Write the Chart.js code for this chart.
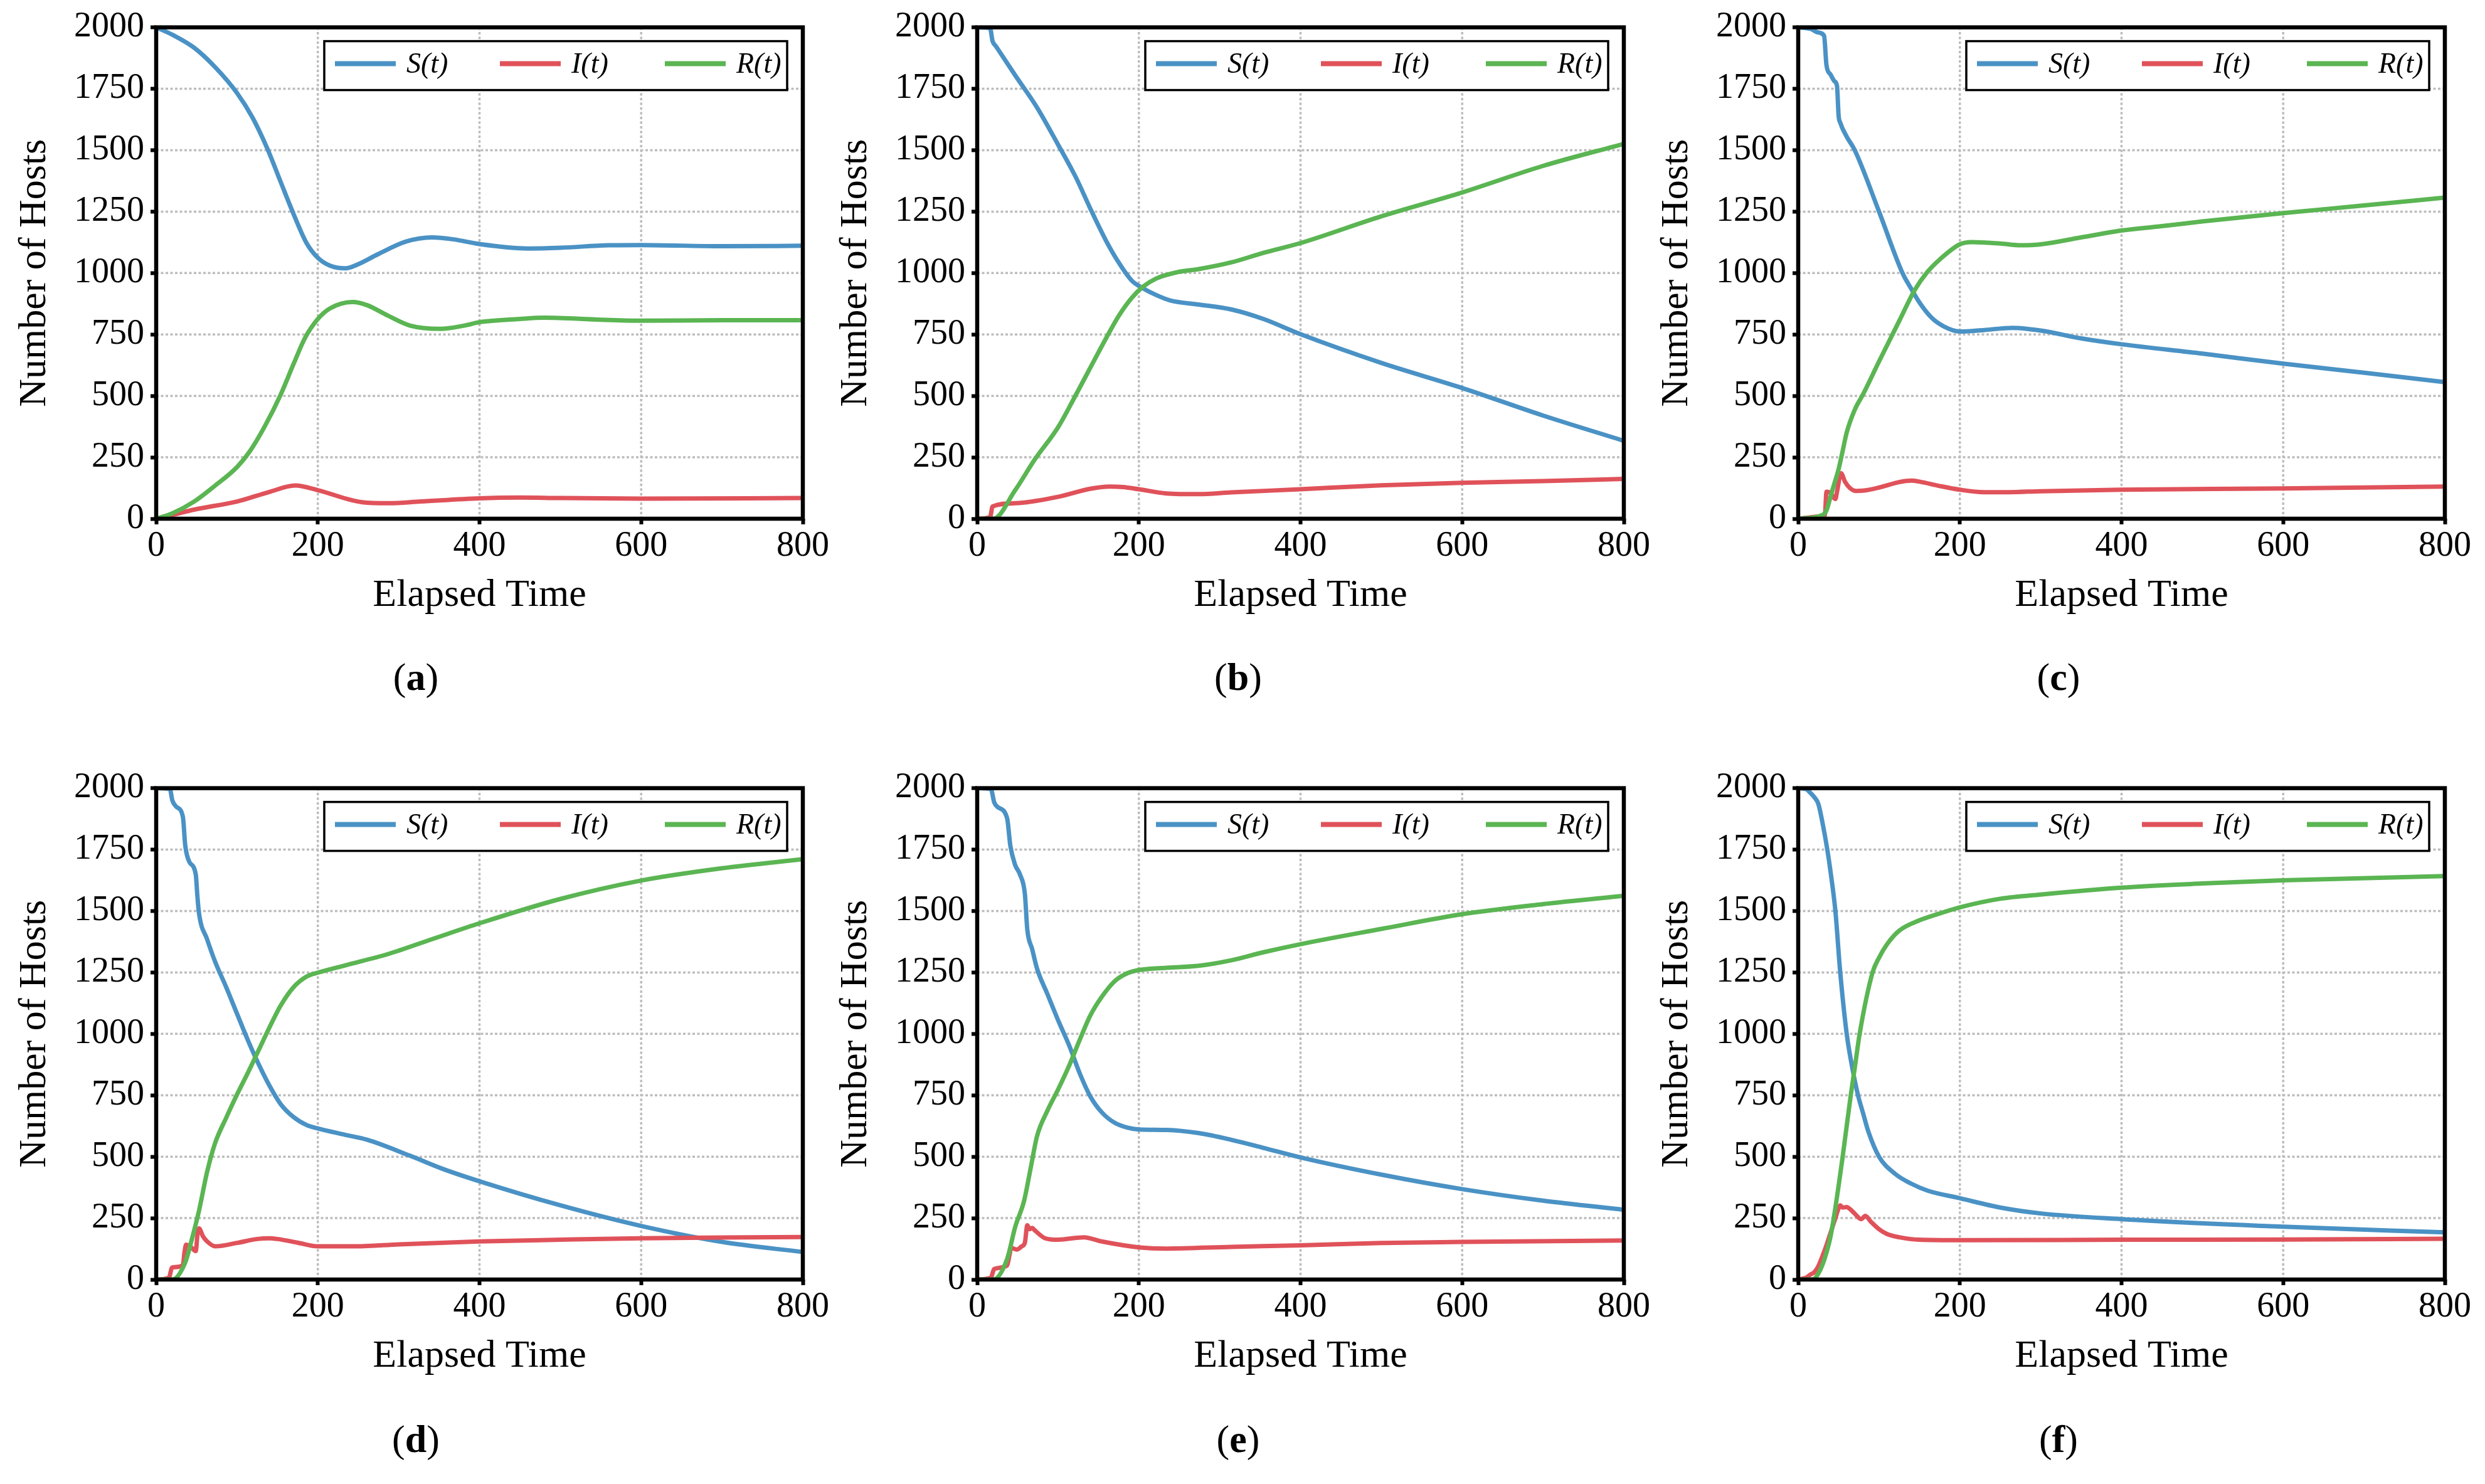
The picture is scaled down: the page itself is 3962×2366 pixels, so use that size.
<!DOCTYPE html>
<html>
<head>
<meta charset="utf-8">
<script src="https://cdn.jsdelivr.net/npm/chart.js@4.4.1/dist/chart.umd.min.js"></script>
<style>
  html, body { margin: 0; padding: 0; background: #fff; }
  #page { position: relative; width: 3962px; height: 2366px; overflow: hidden; background: #fff; }
  canvas { position: absolute; }
  .caption {
    position: absolute; width: 300px; margin-left: -150px; text-align: center;
    font-family: "Liberation Serif", serif; font-size: 62px; line-height: 1; color: #000;
  }
</style>
</head>
<body>
<div id="page">
  <canvas id="chart-a" width="1330" height="1000" style="left:0px;top:0px"></canvas>
  <canvas id="chart-b" width="1330" height="1000" style="left:1309px;top:0px"></canvas>
  <canvas id="chart-c" width="1330" height="1000" style="left:2618px;top:0px"></canvas>
  <canvas id="chart-d" width="1330" height="1000" style="left:0px;top:1213px"></canvas>
  <canvas id="chart-e" width="1330" height="1000" style="left:1309px;top:1213px"></canvas>
  <canvas id="chart-f" width="1330" height="1000" style="left:2618px;top:1213px"></canvas>
  <div class="caption" style="left:663px;top:1048px">(<b>a</b>)</div>
  <div class="caption" style="left:1974px;top:1048px">(<b>b</b>)</div>
  <div class="caption" style="left:3282px;top:1048px">(<b>c</b>)</div>
  <div class="caption" style="left:663px;top:2263px">(<b>d</b>)</div>
  <div class="caption" style="left:1974px;top:2263px">(<b>e</b>)</div>
  <div class="caption" style="left:3282px;top:2263px">(<b>f</b>)</div>
</div>
<script>
// axis ticks
const xTicks = [0, 200, 400, 600, 800];
const yTicks = [0, 250, 500, 750, 1000, 1250, 1500, 1750, 2000];
const seriesLabels = ['S(t)', 'I(t)', 'R(t)'];

// (a)
const tA_S = [0, 20, 47, 73, 100, 119, 138, 154, 170, 186, 200, 215, 234, 250, 274, 309, 341, 368, 400, 460, 500, 560, 600, 700, 800];
const sA   = [2000, 1970, 1917, 1838, 1733, 1634, 1503, 1371, 1240, 1122, 1062, 1030, 1019, 1036, 1076, 1128, 1145, 1137, 1118, 1100, 1103, 1113, 1114, 1109, 1111];
const tA_I = [0, 20, 47, 100, 140, 172, 200, 255, 287, 327, 400, 450, 500, 600, 800];
const iA   = [0, 15, 37, 70, 109, 135, 116, 67, 63, 70, 83, 86, 84, 82, 84];
const tA_R = [0, 20, 47, 73, 100, 116, 135, 154, 170, 184, 200, 215, 243, 261, 287, 314, 352, 381, 400, 450, 480, 550, 600, 700, 800];
const rA   = [0, 22, 70, 135, 210, 275, 380, 505, 630, 735, 813, 856, 882, 869, 826, 786, 773, 786, 800, 813, 818, 810, 806, 808, 808];

// (b)
const tB_S = [0, 16, 19, 23, 47, 74, 100, 122, 140, 159, 175, 191, 205, 221, 239, 274, 314, 354, 400, 500, 600, 700, 800];
const sB   = [2000, 1996, 1944, 1924, 1805, 1674, 1523, 1390, 1262, 1134, 1043, 970, 938, 911, 888, 872, 852, 813, 751, 634, 532, 420, 317];
const tB_I = [0, 16, 19, 47, 100, 140, 164, 180, 200, 234, 274, 314, 400, 500, 600, 700, 800];
const iB   = [0, 7, 50, 63, 89, 122, 131, 129, 120, 103, 100, 107, 120, 136, 146, 153, 162];
const tB_R = [0, 20, 47, 71, 100, 119, 140, 162, 175, 191, 205, 221, 247, 274, 314, 354, 400, 500, 600, 700, 800];
const rB   = [0, 0, 116, 240, 372, 485, 615, 750, 825, 898, 944, 977, 1003, 1016, 1043, 1082, 1122, 1231, 1328, 1436, 1526];

// (c)
const tC_S = [0, 15, 25, 32, 35, 40, 45, 48, 50, 52, 60, 70, 100, 129, 140, 150, 165, 180, 200, 230, 265, 300, 350, 400, 500, 600, 700, 800];
const sC   = [2000, 1994, 1979, 1966, 1845, 1808, 1780, 1761, 1640, 1612, 1555, 1500, 1250, 1000, 935, 880, 818, 783, 762, 768, 777, 766, 734, 710, 672, 631, 594, 556];
const tC_I = [0, 30, 33, 35, 40, 44, 46, 48, 53, 58, 64, 72, 80, 100, 125, 140, 150, 175, 200, 230, 260, 300, 400, 600, 800];
const iC   = [0, 10, 15, 110, 105, 85, 80, 110, 185, 150, 125, 113, 114, 127, 149, 155, 151, 133, 118, 108, 108, 112, 118, 123, 131];
const tC_R = [0, 30, 35, 40, 45, 50, 55, 60, 70, 80, 100, 125, 144, 160, 175, 200, 215, 250, 275, 300, 350, 400, 450, 500, 600, 700, 800];
const rC   = [0, 15, 34, 90, 146, 202, 276, 351, 444, 505, 640, 805, 930, 1005, 1055, 1117, 1126, 1120, 1113, 1117, 1145, 1173, 1191, 1210, 1244, 1275, 1307];

// (d)
const tD_S = [0, 17, 20, 25, 33, 36, 41, 49, 51, 53, 63, 73, 87, 100, 114, 127, 140, 154, 170, 186, 200, 234, 261, 314, 354, 400, 500, 600, 700, 800];
const sD   = [2000, 1996, 1950, 1924, 1884, 1766, 1700, 1648, 1560, 1490, 1385, 1293, 1187, 1082, 970, 875, 790, 714, 661, 629, 615, 589, 569, 504, 451, 400, 302, 218, 153, 112];
const tD_I = [0, 16, 19, 21, 33, 35, 37, 44, 49, 51, 53, 58, 63, 73, 100, 125, 140, 150, 175, 200, 247, 300, 400, 500, 600, 700, 800];
const iD   = [0, 8, 45, 50, 57, 110, 142, 129, 116, 180, 208, 175, 155, 135, 149, 165, 168, 165, 150, 135, 135, 143, 155, 162, 168, 171, 173];
const tD_R = [0, 20, 36, 44, 53, 63, 73, 87, 100, 114, 127, 140, 154, 170, 186, 200, 234, 287, 341, 400, 500, 600, 700, 800];
const rD   = [0, 0, 70, 162, 280, 438, 556, 661, 753, 845, 935, 1025, 1115, 1190, 1233, 1249, 1279, 1325, 1385, 1450, 1549, 1624, 1674, 1711];

// (e)
const tE_S = [0, 17, 21, 25, 37, 41, 47, 53, 59, 62, 68, 74, 87, 100, 114, 127, 140, 154, 170, 186, 200, 234, 274, 314, 354, 400, 500, 600, 700, 800];
const sE   = [2000, 1996, 1943, 1924, 1878, 1766, 1687, 1648, 1569, 1424, 1345, 1266, 1161, 1056, 951, 838, 745, 681, 638, 618, 611, 609, 596, 569, 536, 497, 427, 368, 321, 284];
const tE_I = [0, 17, 21, 37, 40, 42, 49, 55, 59, 62, 65, 68, 71, 84, 100, 132, 154, 200, 234, 314, 400, 500, 600, 800];
const iE   = [0, 8, 43, 57, 100, 129, 122, 135, 150, 221, 205, 210, 201, 168, 162, 172, 155, 131, 126, 133, 139, 149, 153, 159];
const tE_R = [0, 20, 37, 47, 58, 66, 74, 87, 100, 114, 127, 140, 154, 170, 186, 200, 234, 274, 314, 354, 400, 500, 600, 700, 800];
const rE   = [0, 0, 83, 214, 320, 451, 583, 688, 773, 872, 977, 1075, 1150, 1214, 1247, 1260, 1269, 1277, 1299, 1332, 1365, 1427, 1487, 1528, 1562];

// (f)
const tF_S = [0, 10, 15, 20, 25, 30, 36, 40, 46, 52, 60, 67, 74, 80, 87, 100, 120, 140, 160, 200, 250, 300, 400, 600, 800];
const sF   = [2000, 1996, 1981, 1963, 1935, 1860, 1750, 1660, 1500, 1250, 1000, 860, 750, 680, 600, 500, 430, 390, 362, 331, 293, 269, 246, 215, 192];
const tF_I = [0, 10, 15, 20, 25, 30, 35, 40, 45, 50, 52, 55, 60, 65, 70, 78, 83, 90, 100, 110, 125, 150, 200, 400, 600, 800];
const iF   = [0, 8, 20, 30, 55, 95, 140, 190, 240, 290, 302, 293, 295, 284, 268, 246, 259, 235, 205, 185, 172, 162, 160, 162, 163, 166];
const tF_R = [0, 15, 20, 25, 30, 35, 40, 44, 55, 65, 70, 76, 92, 100, 110, 125, 150, 175, 200, 250, 300, 400, 500, 600, 800];
const rF   = [0, 0, 3, 25, 60, 110, 175, 250, 500, 750, 862, 1000, 1250, 1310, 1365, 1420, 1462, 1490, 1515, 1550, 1567, 1595, 1612, 1625, 1642];

const COLORS = ['#4A92C5', '#E0525A', '#5AB552'];
const FONT = '"Liberation Serif", "Times New Roman", serif';

const pts = (ts, vs) => ts.map((t, k) => ({ x: t, y: vs[k] }));

// dotted grid under the lines, black frame + boxed legend on top
const frameGrid = {
  id: 'frameGrid',
  beforeDatasetsDraw(chart) {
    const { ctx, chartArea: a, scales: { x, y } } = chart;
    ctx.save();
    ctx.strokeStyle = '#bdbdbd';
    ctx.lineWidth = 3.5;
    ctx.setLineDash([4, 3.5]);
    xTicks.slice(1, -1).forEach(v => {
      const px = x.getPixelForValue(v);
      ctx.beginPath(); ctx.moveTo(px, a.top); ctx.lineTo(px, a.bottom); ctx.stroke();
    });
    yTicks.slice(1, -1).forEach(v => {
      const py = y.getPixelForValue(v);
      ctx.beginPath(); ctx.moveTo(a.left, py); ctx.lineTo(a.right, py); ctx.stroke();
    });
    ctx.restore();
  },
  afterDatasetsDraw(chart) {
    const { ctx, chartArea: a } = chart;
    ctx.save();
    ctx.strokeStyle = '#000';
    ctx.lineWidth = 6.5;
    ctx.strokeRect(a.left, a.top, a.right - a.left, a.bottom - a.top);

    // legend box
    const w = 738, h = 78;
    const lx = a.right - 25 - w, ly = a.top + 22;
    ctx.fillStyle = '#fff';
    ctx.fillRect(lx, ly, w, h);
    ctx.lineWidth = 3.5;
    ctx.strokeRect(lx, ly, w, h);
    chart.data.datasets.forEach((ds, i) => {
      const x0 = lx + 17 + i * 263;
      ctx.strokeStyle = ds.borderColor;
      ctx.lineWidth = 8;
      ctx.beginPath(); ctx.moveTo(x0, ly + 36); ctx.lineTo(x0 + 97, ly + 36); ctx.stroke();
      ctx.fillStyle = '#000';
      ctx.font = 'italic 46px ' + FONT;
      ctx.textBaseline = 'middle';
      ctx.textAlign = 'left';
      ctx.fillText(ds.label, x0 + 114, ly + 38);
    });
    ctx.restore();
  }
};

function makeChart(id, sPair, iPair, rPair) {
  const pairs = [sPair, iPair, rPair];
  new Chart(document.getElementById(id).getContext('2d'), {
    type: 'line',
    data: {
      datasets: pairs.map((p, k) => ({
        label: seriesLabels[k],
        data: pts(p[0], p[1]),
        borderColor: COLORS[k],
        backgroundColor: COLORS[k],
        borderWidth: 7,
        pointRadius: 0,
        cubicInterpolationMode: 'monotone',
        borderCapStyle: 'round',
        borderJoinStyle: 'round',
        order: 2 - k
      }))
    },
    options: {
      responsive: false,
      animation: false,
      devicePixelRatio: 1,
      events: [],
      layout: { padding: { top: 42, right: 50, bottom: 13, left: 0 } },
      plugins: { legend: { display: false }, tooltip: { enabled: false } },
      scales: {
        x: {
          type: 'linear', min: 0, max: 800,
          afterBuildTicks: s => { s.ticks = xTicks.map(v => ({ value: v })); },
          afterFit: s => { s.height = 160; },
          grid: { display: true, drawOnChartArea: false, drawTicks: true, tickLength: 9, tickWidth: 6, tickColor: '#000', color: '#000' },
          border: { display: false },
          ticks: { color: '#000', padding: 2, maxRotation: 0, autoSkip: false, font: { family: FONT, size: 56 }, callback: v => String(v) },
          title: { display: true, text: 'Elapsed Time', color: '#000', font: { family: FONT, size: 62 }, padding: { top: 0, bottom: 0 } }
        },
        y: {
          type: 'linear', min: 0, max: 2000,
          afterBuildTicks: s => { s.ticks = yTicks.map(v => ({ value: v })); },
          afterFit: s => { s.width = 249; },
          grid: { display: true, drawOnChartArea: false, drawTicks: true, tickLength: 9, tickWidth: 6, tickColor: '#000', color: '#000' },
          border: { display: false },
          ticks: { color: '#000', padding: 10, autoSkip: false, font: { family: FONT, size: 56 }, callback: v => String(v) },
          title: { display: true, text: 'Number of Hosts', color: '#000', font: { family: FONT, size: 62 }, padding: { top: 19, bottom: 0 } }
        }
      }
    },
    plugins: [frameGrid]
  });
}

makeChart('chart-a', [tA_S, sA], [tA_I, iA], [tA_R, rA]);
makeChart('chart-b', [tB_S, sB], [tB_I, iB], [tB_R, rB]);
makeChart('chart-c', [tC_S, sC], [tC_I, iC], [tC_R, rC]);
makeChart('chart-d', [tD_S, sD], [tD_I, iD], [tD_R, rD]);
makeChart('chart-e', [tE_S, sE], [tE_I, iE], [tE_R, rE]);
makeChart('chart-f', [tF_S, sF], [tF_I, iF], [tF_R, rF]);
</script>
</body>
</html>
